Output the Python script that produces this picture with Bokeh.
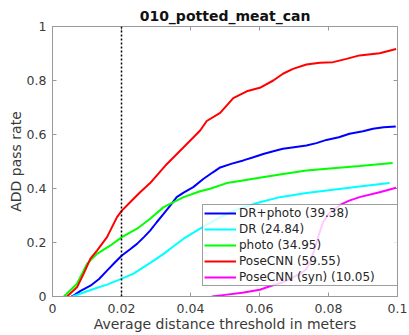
import math
from bokeh.plotting import figure
from bokeh.models import Range1d, FixedTicker, Span, Legend, LegendItem
from bokeh.embed import file_html
from bokeh.resources import INLINE

title_text = "010_potted_meat_can"
x_label = "Average distance threshold in meters"
y_label = "ADD pass rate"
x_ticks = [0, 0.02, 0.04, 0.06, 0.08, 0.1]
x_tick_labels = ["0", "0.02", "0.04", "0.06", "0.08", "0.1"]
y_ticks = [0, 0.2, 0.4, 0.6, 0.8, 1]
y_tick_labels = ["0", "0.2", "0.4", "0.6", "0.8", "1"]
x_min, x_max = 0, 0.1
y_min, y_max = 0, 1
threshold = 0.02

names = ["DR+photo (39.38)", "DR (24.84)", "photo (34.95)", "PoseCNN (59.55)", "PoseCNN (syn) (10.05)"]
colors = ["#0000ff", "#00ffff", "#00ff00", "#ff0000", "#ff00ff"]

dr_photo_x = [0.0055, 0.0062, 0.008, 0.011, 0.0135, 0.0158, 0.018, 0.0201, 0.0225, 0.0245, 0.0265, 0.0283,
              0.0302, 0.0322, 0.034, 0.036, 0.038, 0.0408, 0.0437, 0.0465, 0.0486, 0.052, 0.0553, 0.058,
              0.0611, 0.064, 0.0668, 0.07, 0.0736, 0.0765, 0.0794, 0.083, 0.0861, 0.09, 0.0929, 0.096, 0.0995]
dr_photo_y = [0, 0.004, 0.02, 0.04, 0.065, 0.096, 0.125, 0.152, 0.175, 0.195, 0.22, 0.244,
              0.275, 0.306, 0.335, 0.368, 0.385, 0.405, 0.435, 0.46, 0.478, 0.492, 0.504, 0.515,
              0.528, 0.538, 0.547, 0.553, 0.559, 0.568, 0.58, 0.59, 0.603, 0.612, 0.621, 0.627, 0.63]

dr_x = [0.0058, 0.008, 0.0119, 0.016, 0.0201, 0.0235, 0.0264, 0.029, 0.0322, 0.035, 0.038, 0.0428,
        0.0486, 0.054, 0.0601, 0.0659, 0.0736, 0.0813, 0.089, 0.0977]
dr_y = [0, 0.01, 0.028, 0.045, 0.066, 0.085, 0.109, 0.13, 0.158, 0.185, 0.214, 0.251,
        0.294, 0.325, 0.349, 0.368, 0.383, 0.395, 0.407, 0.42]

photo_x = [0.0033, 0.0071, 0.010, 0.0129, 0.0168, 0.0201, 0.0245, 0.0283, 0.0322, 0.038, 0.0428, 0.0457,
           0.0505, 0.0543, 0.0582, 0.0659, 0.0736, 0.0813, 0.089, 0.0986]
photo_y = [0, 0.047, 0.121, 0.158, 0.189, 0.22, 0.251, 0.288, 0.331, 0.368, 0.39, 0.399,
           0.42, 0.428, 0.436, 0.452, 0.467, 0.475, 0.483, 0.494]

posecnn_x = [0.0042, 0.0071, 0.009, 0.011, 0.0129, 0.0158, 0.0187, 0.0201, 0.0225, 0.0254, 0.0283, 0.0331,
             0.038, 0.0428, 0.0447, 0.0486, 0.0524, 0.0563, 0.0601, 0.064, 0.0668, 0.0697, 0.0736, 0.0775,
             0.0813, 0.0852, 0.089, 0.0948, 0.0996]
posecnn_y = [0, 0.034, 0.084, 0.14, 0.17, 0.22, 0.294, 0.318, 0.349, 0.386, 0.42, 0.49,
             0.553, 0.615, 0.65, 0.68, 0.735, 0.76, 0.773, 0.8, 0.825, 0.843, 0.859, 0.866,
             0.868, 0.88, 0.893, 0.901, 0.917]

posecnn_syn_x = [0.0462, 0.050, 0.055, 0.0601, 0.063, 0.0668, 0.0695, 0.0717, 0.0735, 0.0748, 0.0758, 0.077,
                 0.0784, 0.08, 0.0813, 0.0835, 0.086, 0.089, 0.0948, 0.0996]
posecnn_syn_y = [0, 0.006, 0.014, 0.025, 0.038, 0.053, 0.07, 0.084, 0.1, 0.13, 0.17, 0.22,
                 0.275, 0.305, 0.32, 0.34, 0.355, 0.368, 0.386, 0.403]

series = [(dr_photo_x, dr_photo_y), (dr_x, dr_y), (photo_x, photo_y),
          (posecnn_x, posecnn_y), (posecnn_syn_x, posecnn_syn_y)]

FONT = "DejaVu Sans"
AX = "#999999"
TXT = "#3a3a3a"

p = figure(frame_width=345, frame_height=270, x_range=Range1d(x_min, x_max), y_range=Range1d(y_min, y_max),
           output_backend="svg", toolbar_location=None, title=title_text,
           min_border_left=52, min_border_right=11, min_border_top=26, min_border_bottom=39)
p.xgrid.visible = False
p.ygrid.visible = False
p.outline_line_color = AX
p.outline_line_width = 1
p.background_fill_color = "white"
p.border_fill_color = "white"

p.title.text_font = FONT
p.title.text_font_size = "14px"
p.title.text_font_style = "bold"
p.title.text_color = "#111111"
p.title.align = "center"
p.title.standoff = 5


def style_axis(ax, ticks, labels, label_standoff, axis_label_standoff):
    ax.ticker = FixedTicker(ticks=ticks)
    ax.major_label_overrides = dict(zip(ticks, labels))
    ax.major_tick_in = 4
    ax.major_tick_out = 0
    ax.minor_tick_in = 0
    ax.minor_tick_out = 0
    ax.axis_line_color = AX
    ax.major_tick_line_color = AX
    ax.major_label_text_font = FONT
    ax.major_label_text_color = TXT
    ax.major_label_text_font_size = "12.5px"
    ax.major_label_standoff = label_standoff
    ax.axis_label_text_font = FONT
    ax.axis_label_text_font_size = "14px"
    ax.axis_label_text_font_style = "normal"
    ax.axis_label_text_color = TXT
    ax.axis_label_standoff = axis_label_standoff


p.xaxis.axis_label = x_label
p.yaxis.axis_label = y_label
style_axis(p.xaxis[0], x_ticks, x_tick_labels, 7, 0)
style_axis(p.yaxis[0], y_ticks, y_tick_labels, 6, 0)

# inward ticks on the top and right edges of the box
p.scatter(x_ticks, [y_max] * len(x_ticks), marker="dash", size=8, angle=math.pi / 2,
          line_color=AX, line_width=1)
p.scatter([x_max] * len(y_ticks), y_ticks, marker="dash", size=8, angle=0,
          line_color=AX, line_width=1)

items = []
for (xs, ys), name, col in zip(series, names, colors):
    r = p.line(xs, ys, line_color=col, line_width=2)
    items.append(LegendItem(label=name, renderers=[r]))

p.add_layout(Span(location=threshold, dimension="height", line_color="black",
                  line_dash="2 2", line_width=1.5))

legend = Legend(items=items, location=(150, 10), label_text_font=FONT, label_text_font_size="12px",
                label_text_color="#262626", glyph_width=32, glyph_height=14, label_height=14,
                label_standoff=3, spacing=2, padding=1, margin=0, label_width=157,
                border_line_color="#404040", border_line_width=1,
                background_fill_color="white", background_fill_alpha=0.8)
p.add_layout(legend)

open("out.html", "w").write(file_html(p, INLINE))
